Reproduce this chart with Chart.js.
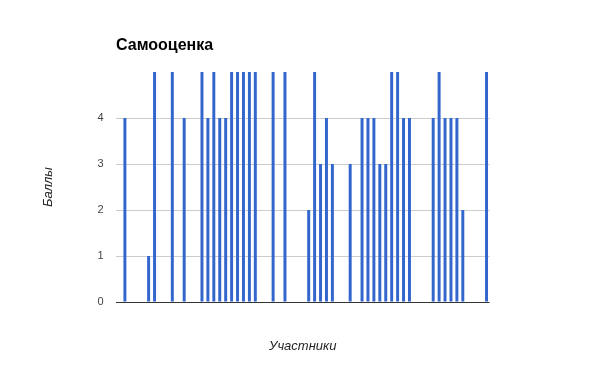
<!DOCTYPE html>
<html>
<head>
<meta charset="utf-8">
<script src="https://cdn.jsdelivr.net/npm/chart.js@4"></script>
<style>
html,body{margin:0;padding:0;background:#fff;}
#wrap{width:605px;height:374px;position:relative;}
</style>
</head>
<body>
<div id="wrap"><canvas id="c" width="605" height="374"></canvas></div>
<script>
const chartTitle = 'Самооценка';
const yAxisTitle = 'Баллы';
const xAxisTitle = 'Участники';
const participants = Array.from({length: 63}, (_, i) => String(i + 1));
const scores = [
  0, 4, 0, 0, 0, 1, 5, 0, 0, 5,
  0, 4, 0, 0, 5, 4, 5, 4, 4, 5,
  5, 5, 5, 5, 0, 0, 5, 0, 5, 0,
  0, 0, 2, 5, 3, 4, 3, 0, 0, 3,
  0, 4, 4, 4, 3, 3, 5, 5, 4, 4,
  0, 0, 0, 4, 5, 4, 4, 4, 2, 0,
  0, 0, 5
];
const yTicks = [0, 1, 2, 3, 4];
const yMax = 5;

Chart.defaults.font.family = '"Liberation Sans", Arial, sans-serif';
Chart.defaults.animation = false;

new Chart(document.getElementById('c'), {
  type: 'bar',
  data: {
    labels: participants,
    datasets: [{
      data: scores,
      backgroundColor: '#3366cc',
      borderWidth: 0,
      categoryPercentage: 1,
      barPercentage: 0.5
    }]
  },
  options: {
    responsive: false,
    devicePixelRatio: 1,
    layout: {padding: {left: 36.5, right: 115.5, top: 36, bottom: 16}},
    plugins: {
      legend: {display: false},
      tooltip: {enabled: false},
      title: {
        display: true,
        text: chartTitle,
        align: 'start',
        fullSize: false,
        color: '#000',
        font: {size: 16, weight: 'bold', lineHeight: 1.2},
        padding: {top: 0, bottom: 16.8}
      }
    },
    scales: {
      x: {
        type: 'category',
        grid: {display: false},
        border: {display: false},
        ticks: {display: false},
        title: {
          display: true,
          text: xAxisTitle,
          color: '#222',
          font: {size: 13, style: 'italic', lineHeight: 1.2},
          padding: {top: 4, bottom: 4}
        },
        afterFit: s => { s.height = 56; }
      },
      y: {
        min: 0,
        max: yMax,
        afterBuildTicks: s => { s.ticks = yTicks.map(v => ({value: v})); },
        grid: {
          drawTicks: false,
          color: ctx => (ctx.tick && ctx.tick.value === 0) ? '#333' : '#cccccc',
          lineWidth: 1
        },
        border: {display: false},
        ticks: {
          color: '#444',
          font: {size: 11},
          padding: 12.5
        },
        title: {
          display: true,
          text: yAxisTitle,
          color: '#222',
          font: {size: 13, style: 'italic', lineHeight: 1.2},
          padding: {top: 4, bottom: 4}
        },
        afterFit: s => { s.width = 79.5; }
      }
    }
  }
});
</script>
</body>
</html>
